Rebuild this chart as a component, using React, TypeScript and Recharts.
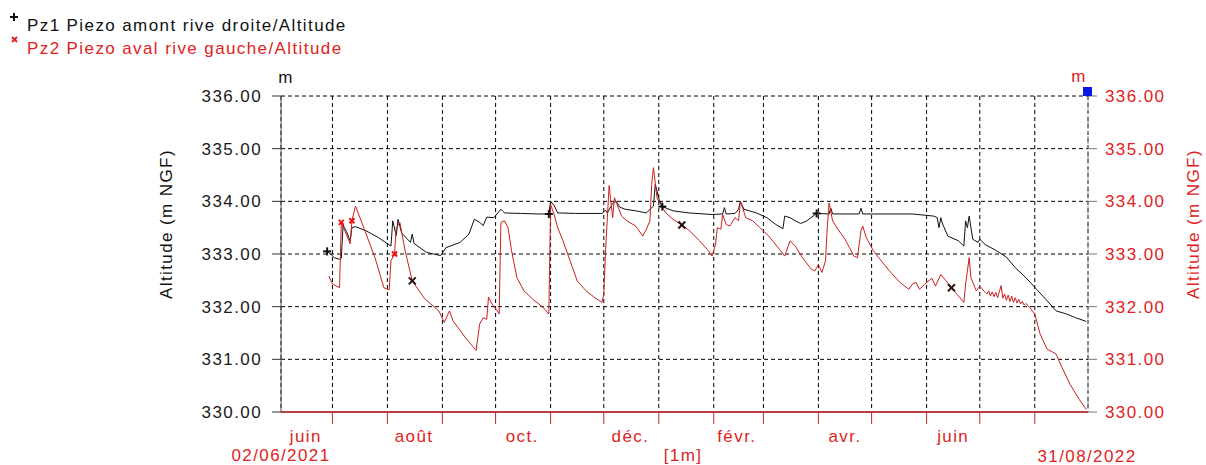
import React from 'react';
import { ComposedChart, Line, XAxis, YAxis, CartesianGrid, ReferenceDot } from 'recharts';

// Pz1 Piezo amont rive droite (black)
const pz1Dates = [
  '2021-06-28', '2021-06-30', '2021-07-02', '2021-07-05', '2021-07-06', '2021-07-07', '2021-07-09', '2021-07-11',
  '2021-07-12', '2021-07-14', '2021-07-20', '2021-07-27', '2021-08-03', '2021-08-04', '2021-08-06', '2021-08-07',
  '2021-08-09', '2021-08-14', '2021-08-15', '2021-08-16', '2021-08-23', '2021-08-31', '2021-09-03', '2021-09-11',
  '2021-09-16', '2021-09-19', '2021-09-22', '2021-09-24', '2021-09-26', '2021-09-30', '2021-10-04', '2021-10-06',
  '2021-10-15', '2021-10-25', '2021-10-31', '2021-11-01', '2021-11-03', '2021-11-05', '2021-11-15', '2021-11-30',
  '2021-12-02', '2021-12-03', '2021-12-06', '2021-12-08', '2021-12-10', '2021-12-13', '2021-12-19', '2021-12-25',
  '2021-12-29', '2021-12-30', '2022-01-01', '2022-01-03', '2022-01-09', '2022-01-18', '2022-01-31', '2022-02-06',
  '2022-02-07', '2022-02-08', '2022-02-13', '2022-02-15', '2022-02-16', '2022-02-18', '2022-02-21', '2022-02-25',
  '2022-03-03', '2022-03-08', '2022-03-12', '2022-03-13', '2022-03-16', '2022-03-19', '2022-03-22', '2022-03-25',
  '2022-03-29', '2022-03-31', '2022-04-07', '2022-04-08', '2022-04-09', '2022-04-24', '2022-04-25', '2022-04-26',
  '2022-05-11', '2022-05-24', '2022-06-05', '2022-06-07', '2022-06-08', '2022-06-09', '2022-06-10', '2022-06-13',
  '2022-06-19', '2022-06-22', '2022-06-23', '2022-06-24', '2022-06-25', '2022-06-26', '2022-06-27', '2022-06-30',
  '2022-07-01', '2022-07-04', '2022-07-10', '2022-07-16', '2022-07-21', '2022-07-27', '2022-08-02', '2022-08-08',
  '2022-08-13', '2022-08-19', '2022-08-24', '2022-08-30'
];
const pz1Values = [
  333.05, 333.0, 332.93, 332.9, 332.92, 333.55, 333.42, 333.25,
  333.5, 333.52, 333.44, 333.31, 333.15, 333.63, 333.35, 333.66,
  333.4, 333.22, 333.38, 333.2, 333.03, 332.97, 333.12, 333.22,
  333.38, 333.66, 333.6, 333.54, 333.7, 333.69, 333.85, 333.78,
  333.77, 333.76, 333.76, 334.0, 333.92, 333.78, 333.77, 333.77,
  333.83, 333.78, 333.96, 334.0, 333.89, 333.85, 333.82, 333.78,
  333.91, 334.33, 334.05, 333.9, 333.82, 333.78, 333.75, 333.76,
  333.88, 333.76, 333.77, 333.85, 334.0, 333.85, 333.82, 333.78,
  333.69, 333.56, 333.48, 333.72, 333.69, 333.63, 333.58, 333.62,
  333.72, 333.77, 333.76, 333.87, 333.76, 333.76, 333.87, 333.76,
  333.76, 333.76, 333.72, 333.69, 333.5, 333.69, 333.57, 333.34,
  333.25, 333.15, 333.63, 333.5, 333.72, 333.5, 333.28, 333.22,
  333.28, 333.18, 333.07, 332.94, 332.74, 332.55, 332.33, 332.11,
  331.92, 331.86, 331.79, 331.72
];

// Pz2 Piezo aval rive gauche (red)
const pz2Dates = [
  '2021-06-29', '2021-07-01', '2021-07-05', '2021-07-06', '2021-07-08', '2021-07-11', '2021-07-12', '2021-07-14',
  '2021-07-19', '2021-07-25', '2021-07-30', '2021-08-02', '2021-08-03', '2021-08-05', '2021-08-06', '2021-08-08',
  '2021-08-11', '2021-08-15', '2021-08-22', '2021-08-30', '2021-09-02', '2021-09-05', '2021-09-07', '2021-09-14',
  '2021-09-20', '2021-09-22', '2021-09-24', '2021-09-26', '2021-09-27', '2021-09-29', '2021-10-02', '2021-10-03',
  '2021-10-04', '2021-10-06', '2021-10-08', '2021-10-10', '2021-10-13', '2021-10-17', '2021-10-22', '2021-10-28',
  '2021-10-31', '2021-11-01', '2021-11-03', '2021-11-05', '2021-11-08', '2021-11-12', '2021-11-16', '2021-11-21',
  '2021-11-26', '2021-11-30', '2021-12-01', '2021-12-02', '2021-12-03', '2021-12-04', '2021-12-06', '2021-12-07',
  '2021-12-11', '2021-12-14', '2021-12-19', '2021-12-23', '2021-12-25', '2021-12-27', '2021-12-28', '2021-12-29',
  '2021-12-30', '2021-12-31', '2022-01-02', '2022-01-05', '2022-01-09', '2022-01-14', '2022-01-18', '2022-01-24',
  '2022-01-29', '2022-01-31', '2022-02-02', '2022-02-03', '2022-02-05', '2022-02-06', '2022-02-08', '2022-02-10',
  '2022-02-13', '2022-02-15', '2022-02-16', '2022-02-17', '2022-02-19', '2022-02-23', '2022-02-27', '2022-03-04',
  '2022-03-10', '2022-03-13', '2022-03-16', '2022-03-19', '2022-03-23', '2022-03-28', '2022-03-30', '2022-04-01',
  '2022-04-03', '2022-04-05', '2022-04-06', '2022-04-07', '2022-04-09', '2022-04-12', '2022-04-16', '2022-04-21',
  '2022-04-23', '2022-04-25', '2022-04-26', '2022-04-28', '2022-05-02', '2022-05-05', '2022-05-11', '2022-05-17',
  '2022-05-22', '2022-05-24', '2022-05-26', '2022-05-28', '2022-05-31', '2022-06-04', '2022-06-06', '2022-06-09',
  '2022-06-12', '2022-06-15', '2022-06-19', '2022-06-22', '2022-06-23', '2022-06-25', '2022-06-26', '2022-06-29',
  '2022-07-01', '2022-07-04', '2022-07-05', '2022-07-06', '2022-07-07', '2022-07-08', '2022-07-09', '2022-07-10',
  '2022-07-11', '2022-07-12', '2022-07-13', '2022-07-14', '2022-07-15', '2022-07-16', '2022-07-17', '2022-07-18',
  '2022-07-19', '2022-07-20', '2022-07-21', '2022-07-22', '2022-07-23', '2022-07-24', '2022-07-25', '2022-07-26',
  '2022-07-27', '2022-07-29', '2022-08-01', '2022-08-04', '2022-08-08', '2022-08-11', '2022-08-13', '2022-08-16',
  '2022-08-21', '2022-08-26', '2022-08-30'
];
const pz2Values = [
  332.58, 332.43, 332.36, 333.6, 333.44, 333.19, 333.63, 333.91,
  333.47, 332.93, 332.36, 332.32, 332.87, 333.0, 333.5, 333.6,
  333.06, 332.49, 332.15, 331.92, 331.7, 331.92, 331.73, 331.41,
  331.17, 331.67, 331.79, 331.76, 332.18, 332.05, 331.92, 331.86,
  333.6, 333.63, 333.5, 333.06, 332.55, 332.3, 332.14, 331.98,
  331.86, 333.94, 333.75, 333.5, 333.25, 332.87, 332.49, 332.3,
  332.17, 332.08, 332.24, 333.06, 333.69, 334.3, 333.69, 334.07,
  333.72, 333.63, 333.53, 333.34, 333.47, 333.63, 334.32, 334.64,
  334.35, 334.07, 333.94, 333.78, 333.66, 333.55, 333.45, 333.25,
  333.06, 332.96, 333.18, 333.5, 333.47, 333.75, 333.56, 333.53,
  333.69, 333.63, 334.0, 333.91, 333.69, 333.63, 333.5, 333.34,
  333.09, 332.96, 333.25, 333.15, 332.93, 332.71, 332.68, 332.8,
  332.65, 332.87, 333.5, 333.97, 333.63, 333.47, 333.28, 332.96,
  332.93, 333.44, 333.53, 333.31, 333.06, 332.93, 332.68, 332.46,
  332.33, 332.43, 332.46, 332.33, 332.43, 332.54, 332.39, 332.61,
  332.49, 332.36, 332.2, 332.08, 332.43, 332.93, 332.55, 332.3,
  332.39, 332.27, 332.24, 332.3, 332.2, 332.28, 332.19, 332.27,
  332.17, 332.28, 332.4, 332.16, 332.24, 332.12, 332.22, 332.1,
  332.2, 332.08, 332.17, 332.07, 332.14, 332.05, 332.1, 332.03,
  332.06, 331.99, 331.86, 331.48, 331.19, 331.14, 331.1, 330.87,
  330.52, 330.24, 330.05
];

const pz1Marks = ['2021-06-28', '2021-10-31', '2022-01-03', '2022-03-31'];
const pz2Marks = ['2021-08-15', '2022-01-14', '2022-06-15'];
const pz2RedMarks = ['2021-07-06', '2021-07-12', '2021-08-05'];

const startDate = '2021-06-02';
const endDate = '2022-08-31';
const monthStarts = [
  '2021-07-01', '2021-08-01', '2021-09-01', '2021-10-01', '2021-11-01', '2021-12-01', '2022-01-01',
  '2022-02-01', '2022-03-01', '2022-04-01', '2022-05-01', '2022-06-01', '2022-07-01', '2022-08-01'
];
const monthLabelDates = ['2021-06-16', '2021-08-16', '2021-10-16', '2021-12-16', '2022-02-14', '2022-04-16', '2022-06-16'];
const monthLabels = ['juin', 'août', 'oct.', 'déc.', 'févr.', 'avr.', 'juin'];
const yTicks = [330, 331, 332, 333, 334, 335, 336];

const black = '#111111';
const red = '#cc1f1f';
const redText = '#e02222';
const font = "'Liberation Sans', Arial, sans-serif";
const spacing = 1.4;

const ts = (d: string) => Date.UTC(+d.slice(0, 4), +d.slice(5, 7) - 1, +d.slice(8, 10));

const pz1Data = pz1Dates.map((d, i) => ({ date: d, t: ts(d), v: pz1Values[i] }));
const pz2Data = pz2Dates.map((d, i) => ({ date: d, t: ts(d), v: pz2Values[i] }));

const Plus = ({ x, y, color }: { x: number; y: number; color: string }) => (
  <g stroke={color} strokeWidth={2}>
    <line x1={x - 4} y1={y} x2={x + 4} y2={y} />
    <line x1={x} y1={y - 4} x2={x} y2={y + 4} />
  </g>
);

const Cross = ({ x, y, color, s = 3.5 }: { x: number; y: number; color: string; s?: number }) => (
  <g stroke={color} strokeWidth={2}>
    <line x1={x - s} y1={y - s} x2={x + s} y2={y + s} />
    <line x1={x - s} y1={y + s} x2={x + s} y2={y - s} />
  </g>
);

const pz1Dot = (p: any) => {
  if (!pz1Marks.includes(p.payload.date)) return <g key={`a${p.index}`} />;
  return <Plus key={`a${p.index}`} x={p.cx} y={p.cy} color={black} />;
};

const pz2Dot = (p: any) => {
  if (pz2Marks.includes(p.payload.date)) return <Cross key={`b${p.index}`} x={p.cx} y={p.cy} color="#2a1010" />;
  if (pz2RedMarks.includes(p.payload.date)) return <Cross key={`b${p.index}`} x={p.cx} y={p.cy} color="#ee1111" s={2.5} />;
  return <g key={`b${p.index}`} />;
};

const MonthTick = (p: any) => {
  const i = monthLabelDates.map(ts).indexOf(p.payload.value);
  return (
    <text x={p.x} y={p.y} dy={29} textAnchor="middle" fill={redText} fontSize={17} fontFamily={font} letterSpacing={spacing}>
      {monthLabels[i]}
    </text>
  );
};

const textProps = { fontSize: 17, fontFamily: font, letterSpacing: spacing };

export default function App() {
  return (
    <div style={{ position: 'absolute', left: 0, top: 0, width: 1206, height: 465, background: '#fff' }}>
      <ComposedChart width={1206} height={465} margin={{ top: 96, right: 0, bottom: 0, left: 0 }}>
        <CartesianGrid xAxisId="ax" yAxisId="l" stroke="#000" strokeDasharray="4 3" />
        <XAxis
          xAxisId="lbl"
          type="number"
          dataKey="t"
          domain={[ts(startDate), ts(endDate)]}
          allowDataOverflow
          ticks={monthLabelDates.map(ts)}
          interval={0}
          height={52}
          tickSize={0}
          tickMargin={0}
          axisLine={false}
          tickLine={false}
          tick={MonthTick}
        />
        <XAxis
          xAxisId="ax"
          type="number"
          dataKey="t"
          domain={[ts(startDate), ts(endDate)]}
          allowDataOverflow
          ticks={monthStarts.map(ts)}
          interval={0}
          height={1}
          tickSize={12}
          tickFormatter={() => ''}
          tickLine={{ stroke: '#b03030' }}
          axisLine={{ stroke: '#b84040', strokeWidth: 2 }}
        />
        <YAxis
          yAxisId="l"
          type="number"
          domain={[330, 336]}
          ticks={yTicks}
          interval={0}
          allowDataOverflow
          width={281}
          tickSize={9}
          tickMargin={10}
          tickFormatter={(v: number) => v.toFixed(2)}
          tick={{ fill: '#1a1a1a', ...textProps }}
          tickLine={{ stroke: '#333' }}
          axisLine={{ stroke: '#555' }}
        />
        <YAxis
          yAxisId="r"
          orientation="right"
          type="number"
          domain={[330, 336]}
          ticks={yTicks}
          interval={0}
          allowDataOverflow
          width={118}
          tickSize={9}
          tickMargin={8}
          tickFormatter={(v: number) => v.toFixed(2)}
          tick={{ fill: redText, ...textProps }}
          tickLine={{ stroke: '#777' }}
          axisLine={{ stroke: '#8090b0', strokeDasharray: '3 2' }}
        />
        <Line
          xAxisId="ax"
          yAxisId="l"
          data={pz1Data}
          dataKey="v"
          type="linear"
          stroke={black}
          strokeWidth={1}
          dot={pz1Dot}
          activeDot={false}
          isAnimationActive={false}
        />
        <Line
          xAxisId="ax"
          yAxisId="l"
          data={pz2Data}
          dataKey="v"
          type="linear"
          stroke={red}
          strokeWidth={1}
          dot={pz2Dot}
          activeDot={false}
          isAnimationActive={false}
        />
        <ReferenceDot
          xAxisId="ax"
          yAxisId="l"
          x={ts(endDate)}
          y={336}
          ifOverflow="visible"
          shape={(p: any) => <rect x={p.cx - 5} y={p.cy - 9} width={9} height={9} fill="#0a18e6" />}
        />
      </ComposedChart>
      <svg width={1206} height={465} style={{ position: 'absolute', left: 0, top: 0, pointerEvents: 'none' }}>
        <Plus x={14} y={17} color={black} />
        <text x={27} y={31} fill={black} {...textProps}>Pz1 Piezo amont rive droite/Altitude</text>
        <Cross x={14.5} y={39.5} color={redText} s={2.5} />
        <text x={27} y={54} fill={redText} {...textProps}>Pz2 Piezo aval rive gauche/Altitude</text>
        <text x={286} y={83} textAnchor="middle" fill={black} {...textProps}>m</text>
        <text x={1079} y={82} textAnchor="middle" fill={redText} {...textProps}>m</text>
        <text
          x={166}
          y={224}
          textAnchor="middle"
          dominantBaseline="central"
          transform="rotate(-90 166 224)"
          fill={black}
          {...textProps}
        >
          Altitude (m NGF)
        </text>
        <text
          x={1193}
          y={224}
          textAnchor="middle"
          dominantBaseline="central"
          transform="rotate(-90 1193 224)"
          fill={redText}
          {...textProps}
        >
          Altitude (m NGF)
        </text>
        <text x={281} y={461} textAnchor="middle" fill={redText} {...textProps}>02/06/2021</text>
        <text x={683} y={461} textAnchor="middle" fill={redText} {...textProps}>[1m]</text>
        <text x={1087} y={462} textAnchor="middle" fill={redText} {...textProps}>31/08/2022</text>
      </svg>
    </div>
  );
}
